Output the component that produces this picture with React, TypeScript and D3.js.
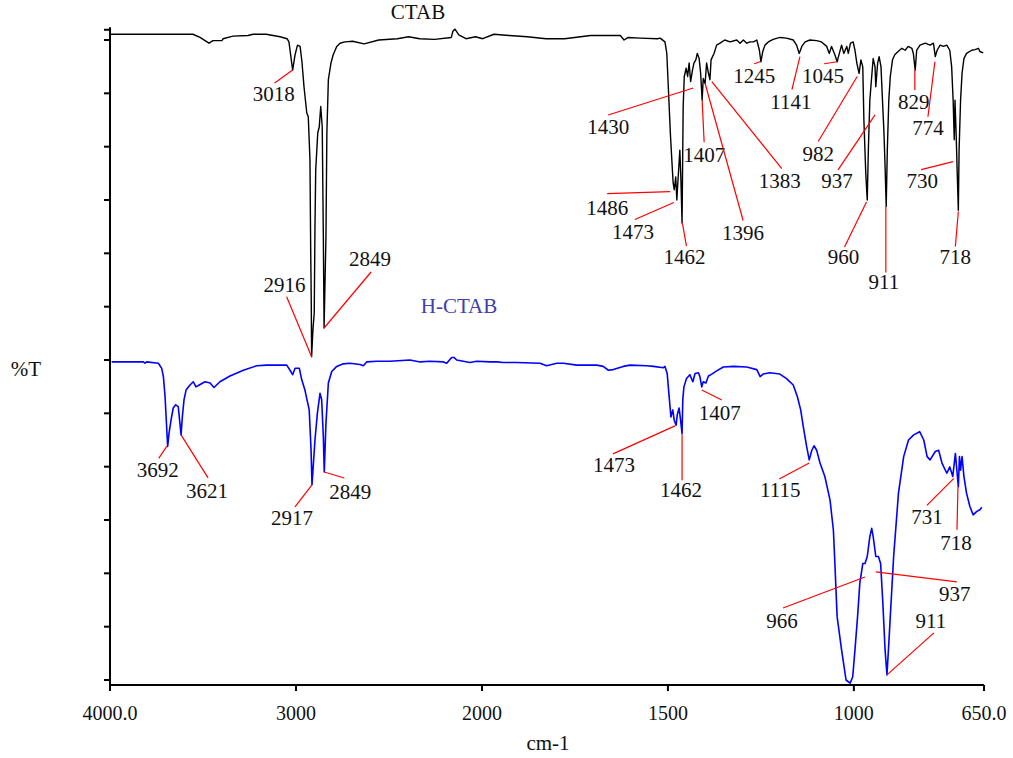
import * as d3 from 'd3';

// CTAB spectrum (wavenumber, %T)
const ctabWn = [3995, 3661, 3554, 3516, 3468, 3446, 3398, 3392, 3339, 3258, 3231, 3160, 3086, 3048, 3038, 3032, 3018, 3005, 2992, 2978, 2968, 2957, 2942, 2934, 2925, 2921, 2918, 2916, 2909, 2902, 2898, 2894, 2883, 2875, 2867, 2859, 2853, 2849, 2839, 2834, 2826, 2812, 2800, 2781, 2763, 2737, 2695, 2634, 2555, 2455, 2395, 2335, 2255, 2165, 2156, 2145, 2125, 2086, 2035, 1998, 1968, 1927, 1878, 1828, 1778, 1708, 1628, 1618, 1607, 1575, 1528, 1521, 1508, 1503, 1499, 1493, 1488, 1486, 1483, 1479, 1476, 1474, 1470, 1468, 1465, 1462, 1459, 1456, 1451, 1447, 1443, 1439, 1434, 1430, 1425, 1421, 1416, 1412, 1408, 1405, 1400, 1396, 1391, 1387, 1384, 1380, 1376, 1369, 1360, 1347, 1333, 1315, 1306, 1297, 1288, 1279, 1270, 1261, 1254, 1250, 1245, 1239, 1230, 1217, 1199, 1181, 1163, 1154, 1147, 1140, 1131, 1118, 1100, 1087, 1073, 1066, 1060, 1051, 1045, 1039, 1033, 1027, 1019, 1015, 1009, 1002, 997, 992, 986, 981, 976, 973, 968, 964, 961, 957, 952, 948, 943, 941, 936, 932, 927, 923, 919, 916, 913, 910, 906, 902, 896, 890, 881, 871, 862, 854, 844, 840, 835, 831, 822, 808, 795, 786, 781, 776, 768, 759, 750, 742, 737, 733, 730, 728, 725, 722, 719, 717, 713, 709, 704, 697, 683, 674, 665, 661, 652];
const ctabT = [100.9, 100.9, 100.9, 100.4, 99.5, 99.9, 99.9, 100.2, 100.6, 100.7, 100.9, 100.9, 100.5, 100.2, 99.7, 98.4, 95.3, 97.7, 99.2, 99.0, 96.6, 92.7, 88.6, 88.0, 81.3, 67.2, 59.4, 50.5, 54.7, 57.3, 70.8, 79.7, 85.5, 86.4, 89.6, 86.4, 69.2, 55.0, 69.2, 85.5, 93.8, 96.4, 97.7, 99.0, 99.5, 99.7, 99.8, 99.4, 100.0, 100.2, 100.5, 100.2, 100.1, 100.4, 101.4, 101.7, 100.8, 100.2, 100.5, 100.2, 100.9, 100.7, 100.5, 100.2, 100.2, 100.7, 100.7, 100.0, 100.4, 100.3, 100.2, 100.3, 99.7, 97.9, 92.7, 84.9, 79.7, 77.7, 76.6, 78.6, 75.0, 77.1, 80.8, 82.8, 78.1, 71.4, 89.6, 94.3, 95.6, 94.3, 96.4, 93.5, 95.3, 96.4, 96.9, 97.9, 97.1, 94.8, 90.6, 94.0, 93.2, 96.4, 94.8, 93.8, 96.9, 97.4, 97.9, 99.2, 99.5, 100.0, 99.7, 100.0, 99.5, 100.0, 99.5, 99.7, 99.7, 100.0, 98.4, 96.6, 98.2, 99.2, 99.7, 100.1, 100.4, 100.3, 100.0, 99.2, 97.9, 99.0, 99.7, 100.0, 99.9, 99.7, 99.0, 97.9, 99.0, 97.7, 96.6, 97.9, 99.2, 97.9, 99.0, 97.9, 99.5, 99.7, 98.4, 96.4, 94.8, 96.9, 95.8, 87.5, 79.2, 75.0, 82.8, 90.6, 94.3, 97.1, 95.8, 92.7, 96.4, 97.4, 95.8, 90.6, 85.5, 80.2, 74.0, 82.8, 90.6, 94.3, 96.9, 97.7, 98.2, 98.7, 98.4, 99.0, 98.7, 97.9, 95.3, 98.4, 99.2, 99.5, 99.2, 99.5, 97.4, 98.4, 99.2, 99.0, 99.2, 98.4, 95.8, 90.6, 84.4, 90.6, 85.5, 79.2, 73.4, 82.8, 90.6, 94.8, 97.1, 97.9, 98.4, 98.5, 98.7, 98.2, 98.0];

// H-CTAB spectrum (wavenumber, %T)
const hctabWn = [3991, 3821, 3812, 3803, 3740, 3722, 3713, 3704, 3695, 3690, 3683, 3672, 3660, 3647, 3633, 3624, 3618, 3611, 3602, 3591, 3570, 3552, 3538, 3520, 3489, 3462, 3441, 3409, 3355, 3283, 3211, 3158, 3050, 3032, 3018, 3005, 2982, 2969, 2952, 2929, 2919, 2914, 2898, 2885, 2871, 2862, 2853, 2848, 2839, 2826, 2808, 2781, 2746, 2710, 2656, 2638, 2620, 2566, 2495, 2387, 2333, 2280, 2208, 2190, 2163, 2151, 2136, 2101, 2065, 2029, 1978, 1960, 1943, 1907, 1844, 1826, 1799, 1781, 1745, 1692, 1674, 1660, 1647, 1620, 1602, 1557, 1539, 1512, 1508, 1502, 1496, 1492, 1487, 1483, 1478, 1475, 1470, 1466, 1462, 1460, 1457, 1450, 1441, 1433, 1427, 1418, 1414, 1409, 1405, 1398, 1391, 1382, 1369, 1351, 1324, 1288, 1261, 1252, 1244, 1226, 1199, 1181, 1163, 1152, 1143, 1136, 1127, 1120, 1113, 1107, 1100, 1091, 1078, 1064, 1055, 1051, 1045, 1033, 1021, 1010, 1003, 997, 990, 984, 976, 970, 964, 957, 952, 948, 941, 934, 928, 922, 916, 911, 907, 902, 893, 880, 866, 853, 839, 823, 812, 803, 795, 781, 772, 763, 750, 742, 734, 727, 719, 716, 713, 709, 704, 697, 688, 679, 670, 661, 656];
const hctabT = [49.7, 49.7, 49.5, 49.7, 49.5, 48.7, 47.4, 44.3, 39.3, 36.5, 38.5, 40.6, 42.5, 43.0, 42.7, 40.1, 38.3, 41.1, 43.8, 45.3, 46.1, 46.6, 45.8, 46.1, 46.6, 46.4, 45.7, 46.6, 47.5, 48.4, 49.1, 49.2, 49.2, 48.4, 47.7, 48.7, 48.7, 46.9, 45.3, 42.2, 35.9, 30.5, 37.5, 41.7, 44.8, 43.8, 38.0, 32.5, 40.1, 46.4, 48.2, 49.0, 49.4, 49.5, 49.3, 49.1, 49.7, 49.8, 49.8, 50.0, 49.7, 49.8, 49.7, 49.5, 50.4, 50.4, 50.0, 49.8, 49.6, 49.8, 49.7, 49.7, 49.6, 49.6, 49.5, 49.1, 49.5, 49.5, 49.2, 49.2, 49.0, 48.4, 48.5, 49.0, 49.2, 49.1, 49.0, 48.8, 49.0, 47.9, 43.8, 41.1, 42.2, 40.6, 39.8, 41.4, 42.5, 40.6, 38.5, 43.8, 45.8, 47.1, 47.7, 46.6, 47.9, 48.0, 47.4, 45.8, 46.6, 46.4, 47.5, 47.8, 48.3, 48.9, 49.0, 48.9, 48.5, 47.4, 47.8, 48.0, 47.8, 47.1, 46.1, 44.3, 42.2, 39.6, 36.5, 34.4, 35.9, 36.6, 35.9, 33.9, 31.8, 28.1, 23.4, 18.2, 9.9, 4.7, 0.0, -0.5, 0.5, 4.7, 9.9, 15.1, 18.2, 18.2, 19.3, 22.4, 23.7, 22.4, 19.3, 19.3, 18.2, 12.0, 4.7, 0.8, 4.7, 9.9, 19.3, 29.2, 34.9, 37.5, 38.3, 38.8, 37.5, 34.9, 34.4, 35.7, 35.9, 33.9, 32.3, 33.3, 31.8, 35.4, 30.2, 34.9, 32.8, 34.9, 31.8, 29.2, 27.1, 25.8, 26.3, 26.6, 27.0];

const xTickValues = [4000, 3000, 2000, 1500, 1000, 650];
const xTickLabels = ['4000.0', '3000', '2000', '1500', '1000', '650.0'];

// peak labels: where the leader line touches the trace
const ctabPeakLabels = ['3018', '2916', '2849', '1486', '1473', '1462', '1430', '1407', '1396', '1383', '1245', '1141', '1045', '982', '960', '937', '911', '829', '774', '730', '718'];
const ctabPeakWn = [3018, 2916, 2849, 1494, 1484, 1461, 1432, 1408, 1400, 1382, 1252, 1145, 1045, 991, 966, 943, 914, 836, 782, 733, 719];
const ctabPeakT = [95.3, 50.5, 55.0, 76.3, 74.6, 71.4, 92.5, 90.6, 93.2, 93.5, 96.6, 97.4, 96.6, 94.3, 74.7, 88.3, 74.0, 95.3, 96.6, 81.0, 73.2];

const hctabPeakLabels = ['3692', '3621', '2917', '2849', '1473', '1462', '1407', '1115', '966', '937', '911', '731', '718'];
const hctabPeakWn = [3695, 3618, 2914, 2848, 1481, 1462, 1409, 1120, 970, 941, 911, 731, 720];
const hctabPeakT = [36.5, 38.3, 30.5, 32.5, 39.7, 38.4, 45.3, 33.9, 16.1, 16.9, 0.8, 31.5, 30.2];

// callout layout in px relative to the tip: [lineDx, lineDy, textDx, textDy]
const ctabCallout = [
  [-18, 13, -19, 24], [-25, -60, -27, -72], [47, -56, 46, -69], [-63, 2, -63, 16],
  [-39, 17, -41, 29], [4, 23, 2, 34], [-85, 27, -85, 39], [2, 42, 2, 55],
  [38, 137, 38, 149], [70, 87, 68, 99], [-6, 2, -6, 14], [-8, 33, -9, 45],
  [-13, 2, -14, 14], [-39, 65, -39, 78], [-22, 45, -23, 55], [-37, 55, -38, 66],
  [0, 66, -2, 76], [0, 20, -1, 32], [-7, 55, -7, 66], [-32, 8, -31, 19], [-3, 35, -3, 45],
];
const hctabCallout = [
  [-8, 12, -9, 24], [27, 43, 26, 56], [-17, 22, -20, 33], [20, 6, 26, 20],
  [-62, 28, -61, 39], [0, 46, -1, 56], [20, 10, 18, 23], [-30, 16, -29, 27],
  [-82, 31, -83, 44], [81, 10, 79, 22], [47, -42, 44, -54], [-27, 27, -27, 39], [-1, 43, -2, 56],
];

const W = 1013;
const H = 758;
const FONT = "'Liberation Serif', 'Times New Roman', serif";

const x = d3.scaleLinear().domain([4000, 2000, 650]).range([110, 482, 984]);
const y = d3.scaleLinear().domain([0, 100]).range([680, 40]);
const yTicks = d3.range(13).map(i => (i * 100) / 12).concat([101.6]);
const yBottom = -0.8;
const yTop = 102;

const line = d3.line<[number, number]>()
  .x(d => x(d[0]))
  .y(d => y(d[1]));

function Callouts({ labels, wn, t, layout }: { labels: string[]; wn: number[]; t: number[]; layout: number[][] }) {
  return (
    <g>
      {labels.map((lab, i) => {
        const px = x(wn[i]);
        const py = y(t[i]);
        const [ldx, ldy, tdx, tdy] = layout[i];
        return (
          <g key={lab + i}>
            <line x1={px} y1={py} x2={px + ldx} y2={py + ldy} stroke="#ff0000" strokeWidth={1.2} />
            <text x={px + tdx} y={py + tdy} textAnchor="middle" dominantBaseline="central"
              fontSize={21} fontFamily={FONT} fill="#111">{lab}</text>
          </g>
        );
      })}
    </g>
  );
}

export default function App() {
  const ctab = ctabWn.map((w, i) => [w, ctabT[i]] as [number, number]);
  const hctab = hctabWn.map((w, i) => [w, hctabT[i]] as [number, number]);
  const x0 = x(4000);
  const yb = y(yBottom);

  return (
    <div style={{ position: 'absolute', left: 0, top: 0 }}>
      <svg width={W} height={H} style={{ display: 'block', background: '#fff' }}>
        {/* axes */}
        <line x1={x0} y1={y(yTop)} x2={x0} y2={yb} stroke="#000" strokeWidth={2} />
        <line x1={x0} y1={yb} x2={x(650)} y2={yb} stroke="#000" strokeWidth={2} />
        {yTicks.map((v, i) => (
          <line key={'yt' + i} x1={x0 - 6} x2={x0} y1={y(v)} y2={y(v)} stroke="#000" strokeWidth={2} />
        ))}
        {xTickValues.map((v, i) => (
          <g key={'xt' + i}>
            <line x1={x(v)} x2={x(v)} y1={yb} y2={yb + 6} stroke="#000" strokeWidth={2} />
            <text x={x(v)} y={713} textAnchor="middle" dominantBaseline="central"
              fontSize={20} fontFamily={FONT} fill="#111">{xTickLabels[i]}</text>
          </g>
        ))}
        <text x={548} y={743} textAnchor="middle" dominantBaseline="central" fontSize={21} fontFamily={FONT} fill="#111">cm-1</text>
        <text x={26} y={369} textAnchor="middle" dominantBaseline="central" fontSize={21} fontFamily={FONT} fill="#111">%T</text>

        {/* traces */}
        <path d={line(ctab) || ''} fill="none" stroke="#000" strokeWidth={1.4} strokeLinejoin="round" />
        <path d={line(hctab) || ''} fill="none" stroke="#0000ff" strokeWidth={1.6} strokeLinejoin="round" />

        <text x={418} y={12} textAnchor="middle" dominantBaseline="central" fontSize={21} fontFamily={FONT} fill="#111">CTAB</text>
        <text x={459} y={306} textAnchor="middle" dominantBaseline="central" fontSize={21} fontFamily={FONT} fill="#4040a8">H-CTAB</text>

        <Callouts labels={ctabPeakLabels} wn={ctabPeakWn} t={ctabPeakT} layout={ctabCallout} />
        <Callouts labels={hctabPeakLabels} wn={hctabPeakWn} t={hctabPeakT} layout={hctabCallout} />
      </svg>
    </div>
  );
}
